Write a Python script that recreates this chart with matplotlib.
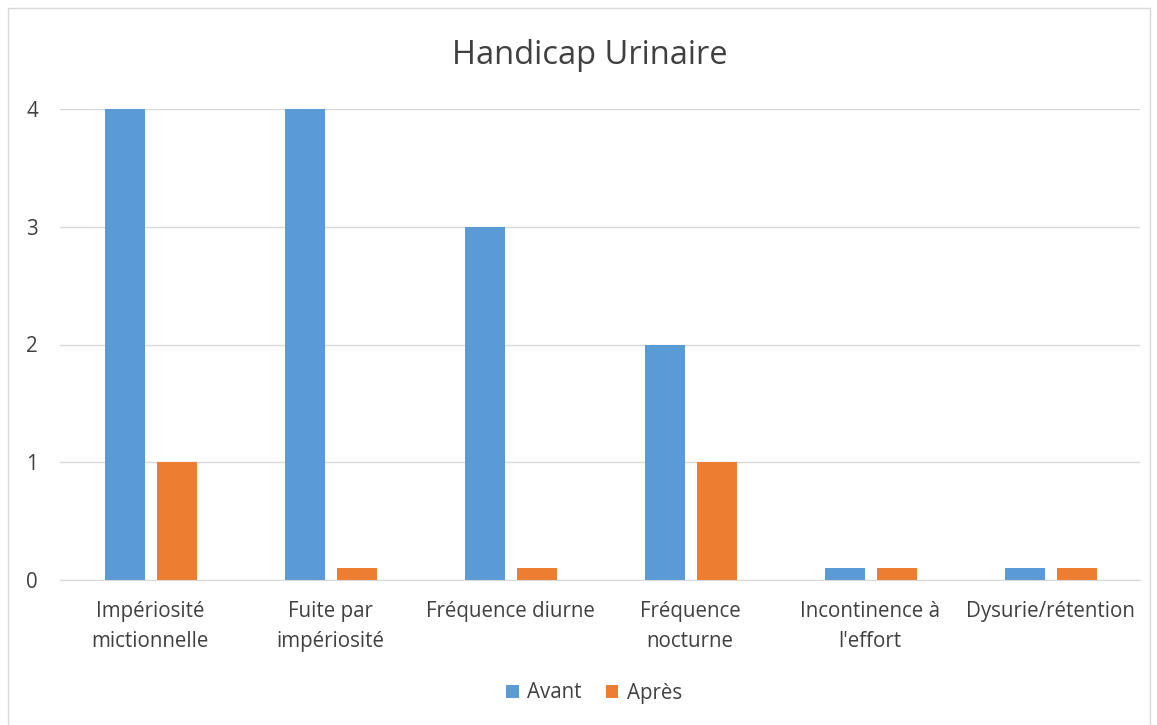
import matplotlib
matplotlib.use("Agg")
import matplotlib.pyplot as plt
from matplotlib.patches import Rectangle
import numpy as np

categories = ["Impériosité\nmictionnelle", "Fuite par\nimpériosité", "Fréquence diurne",
              "Fréquence\nnocturne", "Incontinence à\nl'effort", "Dysurie/rétention"]
avant = [4, 4, 3, 2, 0.1, 0.1]
apres = [1, 0.1, 0.1, 1, 0.1, 0.1]
series_names = ["Avant", "Après"]
yticks = [0, 1, 2, 3, 4]

plt.rcParams['font.family'] = ['Open Sans', 'DejaVu Sans']
fig = plt.figure(figsize=(11.57, 7.25), dpi=100)
ax = fig.add_axes([60/1157, 1-580/725, (1140-60)/1157, (580-109)/725])

x = np.arange(len(categories))
w = 0.222
ax.bar(x - 0.139, avant, w, color="#5B9BD5", label=series_names[0], zorder=3)
ax.bar(x + 0.150, apres, w, color="#ED7D31", label=series_names[1], zorder=3)

ax.set_xlim(-0.5, len(categories) - 0.5)
ax.set_ylim(0, 4)
ax.set_yticks(yticks)
ax.set_xticks(x)
ax.set_xticklabels(categories, fontsize=14.8, color="#404040", linespacing=1.58)
ax.tick_params(axis='y', labelsize=14.8, colors="#404040", length=0, pad=16)
ax.tick_params(axis='x', length=0, pad=15)
ax.grid(axis='y', color="#D9D9D9", linewidth=1, zorder=0)
for s in ["top", "right", "left"]:
    ax.spines[s].set_visible(False)
ax.spines["bottom"].set_color("#D9D9D9")
ax.spines["bottom"].set_zorder(4)

fig.text(590/1157, 1-56/725, "Handicap Urinaire", fontsize=23.5, color="#404040",
         ha="center", va="center")

fig.legend(loc="center", bbox_to_anchor=(594/1157, 1-693/725), ncol=2, frameon=False,
           fontsize=14.8, handlelength=0.6, handleheight=0.6, columnspacing=1.2,
           handletextpad=0.4, labelcolor="#404040")

fig.patches.append(Rectangle((8/1157, -0.01), 1142/1157, 1-8/725 + 0.01,
                             transform=fig.transFigure, fill=False,
                             edgecolor="#D9D9D9", linewidth=1))

fig.savefig("out.png", dpi=100, facecolor="white")
